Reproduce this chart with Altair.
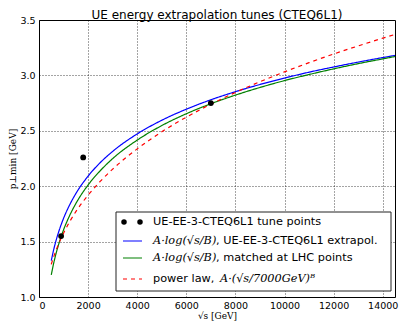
import altair as alt
import pandas as pd

# sqrt(s) sampling positions [GeV] for the extrapolation curves
sqrt_s = [500, 600, 700, 800, 1000, 1250, 1500, 2000, 2500, 3000, 4000, 5000,
          6000, 7000, 8000, 9000, 10000, 11000, 12000, 13000, 14000, 14500]

# A*log(sqrt(s)/B), UE-EE-3-CTEQ6L1 extrapolation
log_extrapol = [1.329, 1.429, 1.514, 1.587, 1.710, 1.832, 1.933, 2.091, 2.214, 2.314, 2.472,
                2.595, 2.695, 2.780, 2.853, 2.918, 2.976, 3.029, 3.076, 3.120, 3.161, 3.180]

# A*log(sqrt(s)/B), matched at LHC points
log_matched = [1.200, 1.307, 1.397, 1.475, 1.606, 1.736, 1.843, 2.011, 2.141, 2.249, 2.416,
               2.547, 2.654, 2.744, 2.822, 2.891, 2.953, 3.008, 3.059, 3.106, 3.149, 3.170]

# power law A*(sqrt(s)/7000 GeV)^B
power_law = [1.295, 1.364, 1.425, 1.480, 1.576, 1.680, 1.770, 1.919, 2.045, 2.154, 2.337,
             2.491, 2.623, 2.740, 2.846, 2.943, 3.032, 3.115, 3.193, 3.266, 3.336, 3.369]

# UE-EE-3-CTEQ6L1 tune points
tune_sqrt_s = [900, 1800, 7000]
tune_ptmin = [1.55, 2.26, 2.75]

curves = pd.concat([
    pd.DataFrame({"sqrt_s": sqrt_s, "ptmin": log_extrapol, "series": "extrapol"}),
    pd.DataFrame({"sqrt_s": sqrt_s, "ptmin": log_matched, "series": "matched"}),
    pd.DataFrame({"sqrt_s": sqrt_s, "ptmin": power_law, "series": "power"}),
])
points = pd.DataFrame({"sqrt_s": tune_sqrt_s, "ptmin": tune_ptmin})

W, H = 356, 277
sans = "DejaVu Sans"
serif = "DejaVu Serif"

xscale = alt.Scale(domain=[0, 14500], nice=False, zero=False)
yscale = alt.Scale(domain=[1.0, 3.5], nice=False, zero=False)

xaxis = alt.Axis(values=list(range(0, 14001, 2000)), format="d", title="√s [GeV]",
                 titleFont=serif, titleFontSize=9, titleFontWeight="normal",
                 titlePadding=2, labelPadding=3, tickSize=0,
                 grid=True, gridDash=[1, 2], gridColor="#000", gridOpacity=0.9, gridWidth=0.8)
yaxis = alt.Axis(values=[1.0, 1.5, 2.0, 2.5, 3.0, 3.5], format=".1f", title="p⊥min [GeV]",
                 titleFont=serif, titleFontSize=9, titleFontWeight="normal",
                 titlePadding=2, labelPadding=4, tickSize=0,
                 grid=True, gridDash=[1, 2], gridColor="#000", gridOpacity=0.9, gridWidth=0.8)

color = alt.Color("series:N",
                  scale=alt.Scale(domain=["extrapol", "matched", "power"],
                                  range=["#0000ff", "#008000", "#ff0000"]),
                  legend=None)
dash = alt.StrokeDash("series:N",
                      scale=alt.Scale(domain=["extrapol", "matched", "power"],
                                      range=[[1, 0], [1, 0], [4, 4]]),
                      legend=None)

lines = alt.Chart(curves).mark_line(strokeWidth=1.2, interpolate="monotone").encode(
    x=alt.X("sqrt_s:Q", scale=xscale, axis=xaxis),
    y=alt.Y("ptmin:Q", scale=yscale, axis=yaxis),
    color=color, strokeDash=dash, order="sqrt_s:Q",
)

dots = alt.Chart(points).mark_circle(size=34, color="#000", opacity=1).encode(
    x=alt.X("sqrt_s:Q", scale=xscale),
    y=alt.Y("ptmin:Q", scale=yscale),
)

# legend box
lx0, lx1, ly0, ly1 = 77, 352, 192, 271
box = alt.Chart(pd.DataFrame({"k": [0]})).mark_rect(
    fill="white", stroke="#222", strokeWidth=1).encode(
    x=alt.value(lx0), x2=alt.value(lx1), y=alt.value(ly0), y2=alt.value(ly1))

rows = [202, 221, 238, 259]
sx0, sx1, tx = 84, 103, 114

leg_dots = alt.Chart(pd.DataFrame({"px": [85, 101]})).mark_circle(
    size=30, color="#000", opacity=1).encode(
    x=alt.X("px:Q", scale=None), y=alt.value(rows[0]))

def sample(y, col, dsh):
    return alt.Chart(pd.DataFrame({"k": [0]})).mark_rule(
        color=col, strokeWidth=1.2, strokeDash=dsh).encode(
        x=alt.value(sx0), x2=alt.value(sx1), y=alt.value(y))

def label(x, y, txt, font=sans, style="normal"):
    return alt.Chart(pd.DataFrame({"k": [0]})).mark_text(
        text=txt, font=font, fontSize=11.3, fontStyle=style, align="left",
        baseline="middle", color="#000").encode(x=alt.value(x), y=alt.value(y))

legend = [
    box, leg_dots,
    sample(rows[1], "#0000ff", [1, 0]),
    sample(rows[2], "#008000", [1, 0]),
    sample(rows[3], "#ff0000", [4, 4]),
    label(tx, rows[0], "UE-EE-3-CTEQ6L1 tune points"),
    label(tx, rows[1], "A·log(√s/B)", serif, "italic"),
    label(tx + 63, rows[1], ", UE-EE-3-CTEQ6L1 extrapol."),
    label(tx, rows[2], "A·log(√s/B)", serif, "italic"),
    label(tx + 63, rows[2], ", matched at LHC points"),
    label(tx, rows[3], "power law,"),
    label(tx + 67, rows[3], "A·(√s/7000GeV)ᴮ", serif, "italic"),
]

chart = alt.layer(lines, dots, *legend).properties(
    width=W, height=H,
    title=alt.TitleParams("UE energy extrapolation tunes (CTEQ6L1)", font=sans,
                          fontSize=12, fontWeight="normal", offset=0, dy=7, color="#000"),
    padding={"left": 39, "top": 20, "right": 5, "bottom": 24},
    autosize="none",
).configure_view(stroke="#000", strokeWidth=1).configure_axis(
    labelFont=sans, labelFontSize=9.5, labelColor="#000", domain=False,
)

chart.save("out.html", embed_options={"renderer": "svg", "actions": False})
